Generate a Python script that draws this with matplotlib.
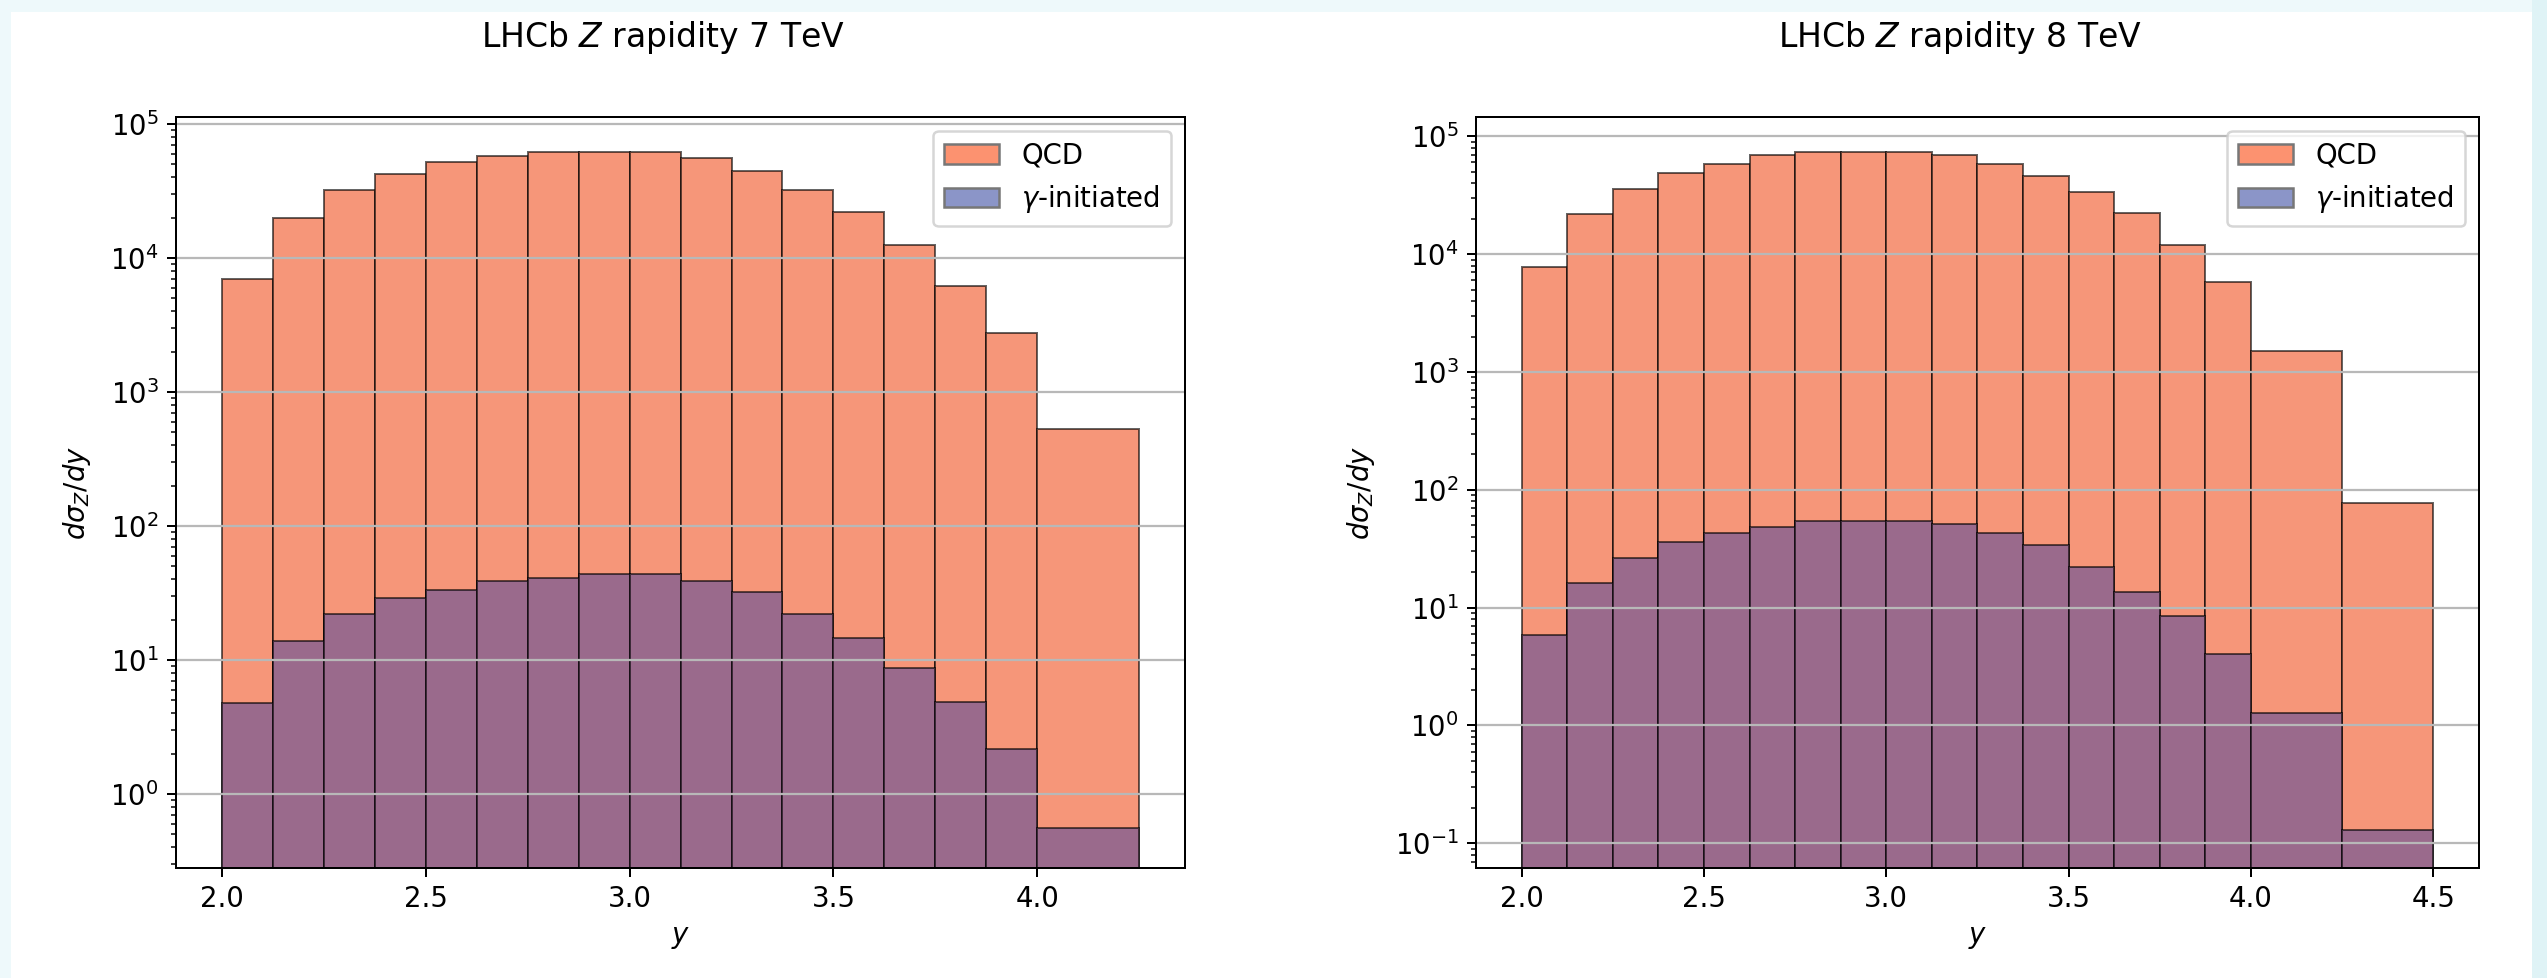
import numpy as np
import matplotlib
matplotlib.use("Agg")
import matplotlib.pyplot as plt
from matplotlib.patches import Patch, Rectangle

# bin edges in Z rapidity
edges_7 = [2.0, 2.125, 2.25, 2.375, 2.5, 2.625, 2.75, 2.875, 3.0, 3.125,
           3.25, 3.375, 3.5, 3.625, 3.75, 3.875, 4.0, 4.25]
edges_8 = [2.0, 2.125, 2.25, 2.375, 2.5, 2.625, 2.75, 2.875, 3.0, 3.125,
           3.25, 3.375, 3.5, 3.625, 3.75, 3.875, 4.0, 4.25, 4.5]

# dsigma/dy per bin
qcd_7 = [6950, 19950, 32000, 42200, 51600, 57900, 61300, 61500, 61300, 55300,
         44700, 32200, 22100, 12400, 6200, 2750, 527]
gam_7 = [4.8, 13.8, 21.9, 28.8, 33.4, 39.1, 41.2, 43.6, 43.6, 39.1,
         32.0, 21.9, 14.6, 8.66, 4.81, 2.15, 0.56]

qcd_8 = [7800, 21900, 35400, 48700, 58500, 69800, 74000, 74000, 74000, 69800,
         58200, 46200, 33500, 22200, 11900, 5800, 1510, 77]
gam_8 = [5.8, 16.3, 26.4, 36.0, 42.9, 48.3, 54.3, 54.3, 54.3, 51.5,
         42.9, 33.7, 22.1, 13.6, 8.5, 4.05, 1.28, 0.13]

qcd_col = '#f69679'
gam_col = '#9a6a8c'
edge = (0, 0, 0, 0.6)

plt.rcParams['font.size'] = 11

fig = plt.figure(figsize=(2547/180, 978/180), dpi=180, facecolor='#eef9fb')
fig.patches.append(Rectangle((11/2547, 0), 2521/2547, 1 - 12/978,
                             transform=fig.transFigure, facecolor='white',
                             edgecolor='none', zorder=-10))
fig.patches.append(Rectangle((2532/2547, 0), 15/2547, 1,
                             transform=fig.transFigure, facecolor='#dff3f6',
                             edgecolor='none', zorder=-10))

ax1 = fig.add_axes([0.0691, 0.1125, 0.3962, 0.7679])
ax2 = fig.add_axes([0.5795, 0.1125, 0.3938, 0.7679])


def draw(ax, edges, qcd, gam, title, ylim):
    edges = np.array(edges)
    widths = np.diff(edges)
    ax.bar(edges[:-1], qcd, width=widths, align='edge', color=qcd_col,
           edgecolor=edge, linewidth=0.8)
    ax.bar(edges[:-1], gam, width=widths, align='edge', color=gam_col,
           edgecolor=edge, linewidth=0.8)
    ax.set_yscale('log')
    ax.set_ylim(*ylim)
    ax.yaxis.grid(True, color='#b8b8b8', linewidth=0.9)
    ax.set_title(title, pad=28, x=0.483)
    ax.set_xlabel(r'$y$')
    ax.set_ylabel(r'$d\sigma_Z/dy$', labelpad=7)
    handles = [Patch(facecolor='#fc9270', edgecolor='#777777', label='QCD'),
               Patch(facecolor='#8b95c8', edgecolor='#777777',
                     label=r'$\gamma$-initiated')]
    ax.legend(handles=handles, loc='upper right')


draw(ax1, edges_7, qcd_7, gam_7, r'LHCb $Z$ rapidity 7 TeV', (0.28, 1.127e5))
draw(ax2, edges_8, qcd_8, gam_8, r'LHCb $Z$ rapidity 8 TeV', (0.0617, 1.46e5))

fig.savefig('out.png', dpi=180, facecolor=fig.get_facecolor())
